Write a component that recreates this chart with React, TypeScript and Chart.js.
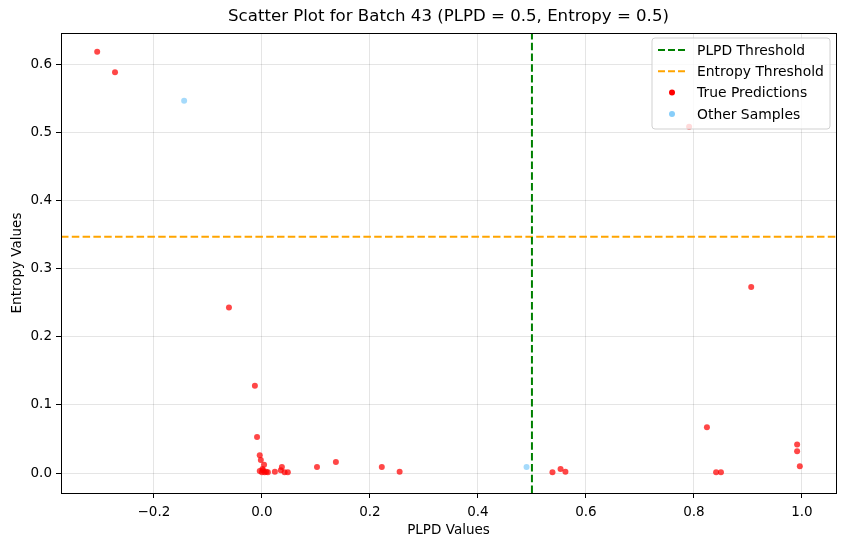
import React, { useEffect, useRef } from "react";
import { Chart, registerables } from "chart.js";

Chart.register(...registerables);

const TITLE = "Scatter Plot for Batch 43 (PLPD = 0.5, Entropy = 0.5)";
const X_LABEL = "PLPD Values";
const Y_LABEL = "Entropy Values";

const PLPD_THRESHOLD = 0.5;
const ENTROPY_THRESHOLD = 0.3466;

const trueX = [-0.305, -0.272, 0.791, -0.061, -0.013, -0.009, -0.004, -0.002, 0.004,
  -0.004, 0.0, 0.002, 0.005, 0.008, 0.011, 0.001,
  0.024, 0.035, 0.037, 0.042, 0.048, 0.102, 0.137, 0.222, 0.255,
  0.538, 0.553, 0.562, 0.906, 0.824, 0.841, 0.85, 0.991, 0.991, 0.996];
const trueY = [0.618, 0.588, 0.508, 0.243, 0.128, 0.053, 0.026, 0.019, 0.012,
  0.003, 0.001, 0.004, 0.001, 0.002, 0.001, 0.006,
  0.002, 0.004, 0.009, 0.001, 0.001, 0.009, 0.016, 0.009, 0.002,
  0.001, 0.006, 0.002, 0.273, 0.067, 0.001, 0.001, 0.042, 0.032, 0.010];

const otherX = [-0.144, 0.49];
const otherY = [0.546, 0.009];

const X_MIN = -0.372;
const X_MAX = 1.063;
const Y_MIN = -0.0293;
const Y_MAX = 0.6455;

const FONT = "'DejaVu Sans', sans-serif";

const RED = "rgba(255,0,0,0.72)";
const BLUE = "rgba(135,206,250,0.75)";

const fmt = (v: number) => (v < -1e-9 ? "\u2212" : "") + Math.abs(v).toFixed(1);

export default function App() {
  const ref = useRef<HTMLCanvasElement | null>(null);

  useEffect(() => {
    document.body.style.margin = "0";
    const canvas = ref.current;
    if (!canvas) return;

    const framePlugin = {
      id: "frameLegend",
      afterDatasetsDraw(chart: any) {
        const { ctx, chartArea: a } = chart;
        ctx.save();
        ctx.strokeStyle = "#000";
        ctx.lineWidth = 1;
        ctx.strokeRect(Math.round(a.left) + 0.5, Math.round(a.top) + 0.5, Math.round(a.right - a.left), Math.round(a.bottom - a.top));
        ctx.restore();
      },
      afterDraw(chart: any) {
        const { ctx, chartArea: a } = chart;
        ctx.save();
        // title
        ctx.fillStyle = "#000";
        ctx.font = `16.6px ${FONT}`;
        ctx.textAlign = "center";
        ctx.textBaseline = "middle";
        ctx.fillText(TITLE, (a.left + a.right) / 2, 17);
        // legend
        const w = 178, h = 91;
        const x0 = a.right - 6 - w;
        const y0 = a.top + 5;
        ctx.beginPath();
        const r = 3;
        ctx.moveTo(x0 + r, y0);
        ctx.lineTo(x0 + w - r, y0);
        ctx.quadraticCurveTo(x0 + w, y0, x0 + w, y0 + r);
        ctx.lineTo(x0 + w, y0 + h - r);
        ctx.quadraticCurveTo(x0 + w, y0 + h, x0 + w - r, y0 + h);
        ctx.lineTo(x0 + r, y0 + h);
        ctx.quadraticCurveTo(x0, y0 + h, x0, y0 + h - r);
        ctx.lineTo(x0, y0 + r);
        ctx.quadraticCurveTo(x0, y0, x0 + r, y0);
        ctx.closePath();
        ctx.fillStyle = "rgba(255,255,255,0.8)";
        ctx.fill();
        ctx.strokeStyle = "rgba(204,204,204,0.9)";
        ctx.lineWidth = 1;
        ctx.stroke();
        const items = [
          { label: "PLPD Threshold", kind: "line", color: "#008000" },
          { label: "Entropy Threshold", kind: "line", color: "#FFA500" },
          { label: "True Predictions", kind: "dot", color: "rgb(255,0,0)" },
          { label: "Other Samples", kind: "dot", color: "rgb(135,206,250)" },
        ];
        ctx.font = `13.9px ${FONT}`;
        ctx.textAlign = "left";
        ctx.textBaseline = "middle";
        items.forEach((it, i) => {
          const cy = y0 + 12 + i * 21.3;
          if (it.kind === "line") {
            ctx.strokeStyle = it.color;
            ctx.lineWidth = 2;
            ctx.setLineDash([7, 3]);
            ctx.beginPath();
            ctx.moveTo(x0 + 6, cy);
            ctx.lineTo(x0 + 34, cy);
            ctx.stroke();
            ctx.setLineDash([]);
          } else {
            ctx.fillStyle = it.color;
            ctx.beginPath();
            ctx.arc(x0 + 20, cy, 3, 0, Math.PI * 2);
            ctx.fill();
          }
          ctx.fillStyle = "#000";
          ctx.fillText(it.label, x0 + 45, cy + 1);
        });
        ctx.restore();
      },
    };

    const chart = new Chart(canvas, {
      type: "scatter",
      data: {
        datasets: [
          {
            label: "PLPD Threshold",
            type: "line",
            data: [{ x: PLPD_THRESHOLD, y: Y_MIN }, { x: PLPD_THRESHOLD, y: Y_MAX }],
            borderColor: "#008000",
            borderWidth: 2,
            borderDash: [7.5, 3.3],
            pointRadius: 0,
            fill: false,
            order: 2,
          } as any,
          {
            label: "Entropy Threshold",
            type: "line",
            data: [{ x: X_MIN, y: ENTROPY_THRESHOLD }, { x: X_MAX, y: ENTROPY_THRESHOLD }],
            borderColor: "#FFA500",
            borderWidth: 2,
            borderDash: [7.5, 3.3],
            pointRadius: 0,
            fill: false,
            order: 2,
          } as any,
          {
            label: "True Predictions",
            data: trueX.map((x, i) => ({ x, y: trueY[i] })),
            backgroundColor: RED,
            borderWidth: 0,
            pointRadius: 3,
            order: 1,
          },
          {
            label: "Other Samples",
            data: otherX.map((x, i) => ({ x, y: otherY[i] })),
            backgroundColor: BLUE,
            borderWidth: 0,
            pointRadius: 3,
            order: 1,
          },
        ],
      },
      options: {
        animation: false,
        responsive: false,
        layout: { padding: { top: 33, right: 10, left: 0, bottom: 0 } },
        plugins: {
          legend: { display: false },
          title: { display: false },
          tooltip: { enabled: false },
        },
        scales: {
          x: {
            type: "linear",
            min: X_MIN,
            max: X_MAX,
            afterFit: (s: any) => { s.height = 54; },
            grid: { color: "rgba(0,0,0,0.1)", tickColor: "#000", tickLength: 5, drawTicks: true },
            border: { display: true, color: "#000" },
            ticks: {
              stepSize: 0.2,
              includeBounds: false,
              maxRotation: 0,
              autoSkip: false,
              color: "#000",
              padding: 6,
              font: { family: FONT, size: 13.5 },
              callback: (v: any) => fmt(Number(v)),
            },
            title: { display: true, text: X_LABEL, color: "#000", font: { family: FONT, size: 13.5 }, padding: { top: 10, bottom: 8 } },
          },
          y: {
            type: "linear",
            min: Y_MIN,
            max: Y_MAX,
            afterFit: (s: any) => { s.width = 61; },
            grid: { color: "rgba(0,0,0,0.1)", tickColor: "#000", tickLength: 5, drawTicks: true },
            border: { display: true, color: "#000" },
            ticks: {
              stepSize: 0.1,
              includeBounds: false,
              autoSkip: false,
              color: "#000",
              padding: 4,
              font: { family: FONT, size: 13.5 },
              callback: (v: any) => fmt(Number(v)),
            },
            title: { display: true, text: Y_LABEL, color: "#000", font: { family: FONT, size: 13.5 }, padding: { top: 9, bottom: 0 } },
          },
        },
      },
      plugins: [framePlugin],
    });

    return () => chart.destroy();
  }, []);

  return (
    <div style={{ width: 846, height: 547 }}>
      <canvas ref={ref} width={846} height={547} style={{ display: "block", width: 846, height: 547 }} />
    </div>
  );
}
